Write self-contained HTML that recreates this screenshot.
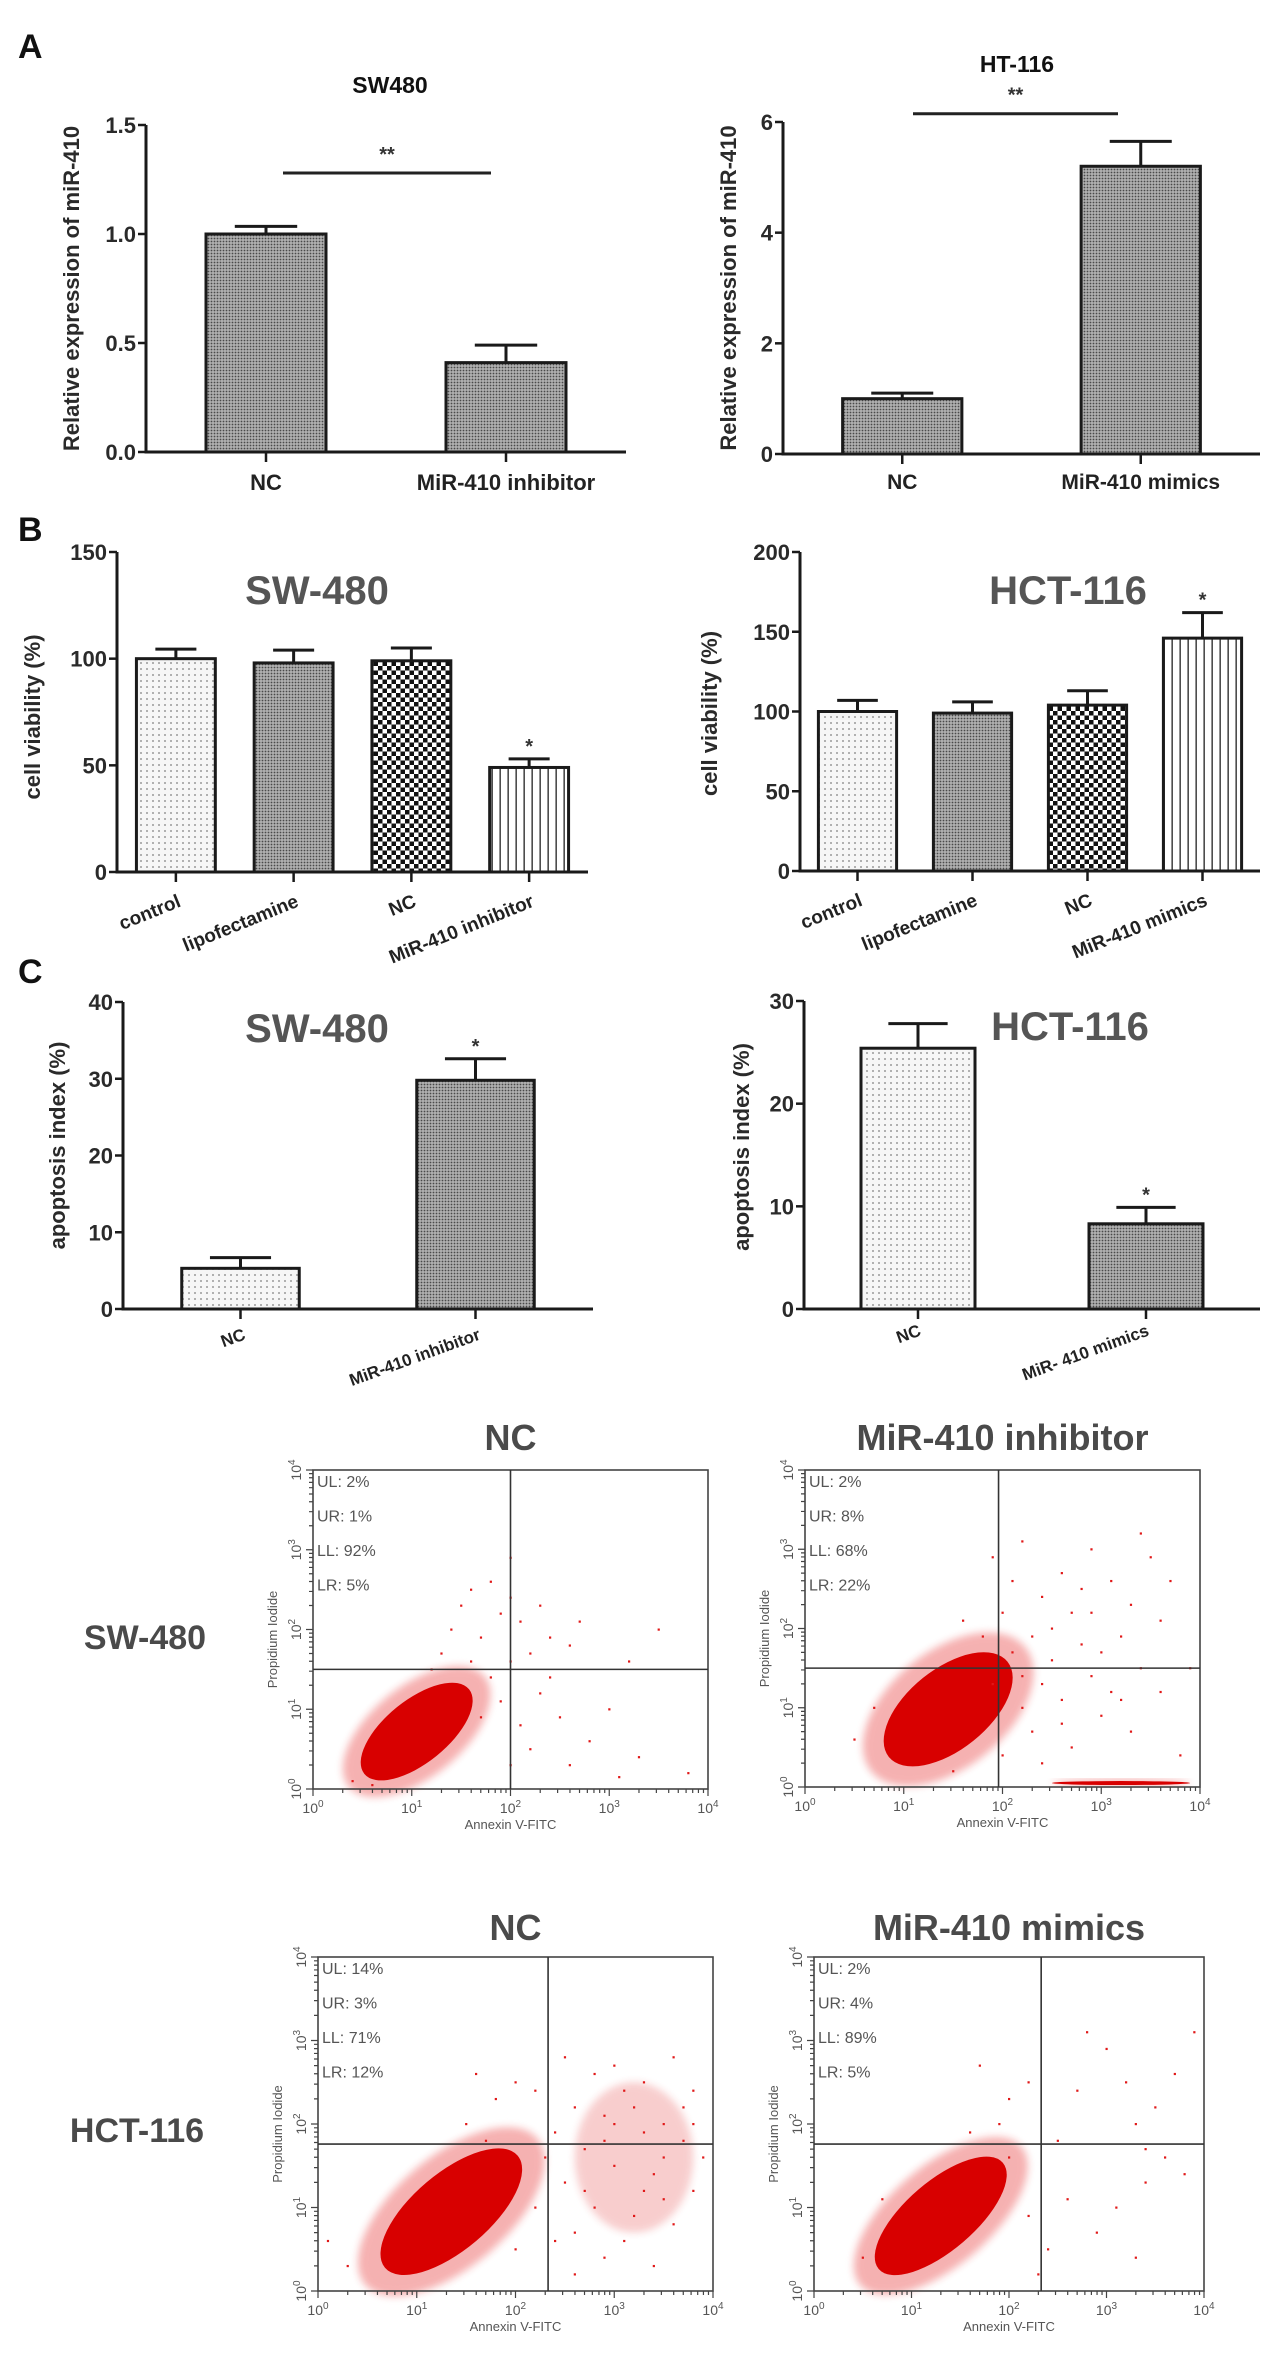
<!DOCTYPE html>
<html><head><meta charset="utf-8">
<style>
html,body{margin:0;padding:0;background:#fff;}
svg{display:block;font-family:"Liberation Sans",Arial,sans-serif;}
</style></head>
<body>
<svg id="fig" width="1263" height="2362" viewBox="0 0 1263 2362" xmlns="http://www.w3.org/2000/svg">
<defs>
<pattern id="pDense" width="3" height="3" patternUnits="userSpaceOnUse"><rect width="3" height="3" fill="#b0b0b0"/><circle cx="1.5" cy="1.5" r="0.9" fill="#4a4a4a"/></pattern>
<pattern id="pStipple" width="6" height="6" patternUnits="userSpaceOnUse"><rect width="6" height="6" fill="#f6f6f6"/><circle cx="3" cy="3" r="1" fill="#9a9a9a"/></pattern>
<pattern id="pChecker" width="9" height="9" patternUnits="userSpaceOnUse"><rect width="9" height="9" fill="#fff"/><rect width="4.5" height="4.5" fill="#111"/><rect x="4.5" y="4.5" width="4.5" height="4.5" fill="#111"/></pattern>
<pattern id="pVlines" width="8" height="8" patternUnits="userSpaceOnUse"><rect width="8" height="8" fill="#fff"/><rect x="3.5" width="1.3" height="8" fill="#222"/></pattern>
<filter id="blur2"><feGaussianBlur stdDeviation="4"/></filter>
</defs>
<g id="root"></g>
</svg>
<script>
// ---------- bar chart data ----------
const aLeftCats = ['NC','MiR-410 inhibitor'];
const aLeftVals = [1.0, 0.41];
const aLeftErr = [0.035, 0.08];
const aLeftTicks = [0, 0.5, 1.0, 1.5];
const aLeftTickLabels = ['0.0','0.5','1.0','1.5'];

const aRightCats = ['NC','MiR-410 mimics'];
const aRightVals = [1.0, 5.2];
const aRightErr = [0.1, 0.45];
const aRightTicks = [0, 2, 4, 6];
const aRightTickLabels = ['0','2','4','6'];

const bLeftCats = ['control','lipofectamine','NC','MiR-410 inhibitor'];
const bLeftVals = [100, 98, 99, 49];
const bLeftErr = [4.5, 6, 6, 4];
const bTicksL = [0, 50, 100, 150];
const bTickLabelsL = ['0','50','100','150'];

const bRightCats = ['control','lipofectamine','NC','MiR-410 mimics'];
const bRightVals = [100, 99, 104, 146];
const bRightErr = [7, 7, 9, 16];
const bTicksR = [0, 50, 100, 150, 200];
const bTickLabelsR = ['0','50','100','150','200'];

const cLeftCats = ['NC','MiR-410 inhibitor'];
const cLeftVals = [5.3, 29.8];
const cLeftErr = [1.4, 2.8];
const cTicksL = [0, 10, 20, 30, 40];
const cTickLabelsL = ['0','10','20','30','40'];

const cRightCats = ['NC','MiR- 410 mimics'];
const cRightVals = [25.4, 8.3];
const cRightErr = [2.4, 1.6];
const cTicksR = [0, 10, 20, 30];
const cTickLabelsR = ['0','10','20','30'];

// ---------- flow cytometry data (log10 units) ----------
const fcQuadText1 = ['UL: 2%','UR: 1%','LL: 92%','LR: 5%'];
const fcQuadText2 = ['UL: 2%','UR: 8%','LL: 68%','LR: 22%'];
const fcQuadText3 = ['UL: 14%','UR: 3%','LL: 71%','LR: 12%'];
const fcQuadText4 = ['UL: 2%','UR: 4%','LL: 89%','LR: 5%'];
const fcGates1 = [2.0, 1.5];
const fcGates2 = [1.96, 1.5];
const fcGates3 = [2.33, 1.76];
const fcGates4 = [2.33, 1.76];
const fcCluster1 = [[1.05,0.72,0.75,0.35]];
const fcCluster2 = [[1.45,0.98,0.85,0.45],[3.2,0.05,0.7,0.04]];
const fcCluster3 = [[1.35,0.95,0.95,0.42]];
const fcCluster4 = [[1.3,0.9,0.9,0.38]];
const fcHalo3 = [[3.2,1.6,0.6,0.9]];
const fcDots1 = [[1.5,2.3],[1.6,2.5],[1.8,2.6],[1.9,2.2],[2.0,2.9],[2.0,2.4],[2.1,2.1],[1.7,1.9],[1.4,2.0],[2.3,2.3],[2.4,1.9],[2.2,1.7],[1.6,1.6],[1.3,1.7],[2.6,1.8],[3.5,2.0],[3.2,1.6],[2.3,1.2],[2.5,0.9],[2.8,0.6],[3.0,1.0],[2.2,0.5],[2.6,0.3],[3.3,0.4],[3.8,0.2],[2.0,0.3],[0.4,0.1],[0.6,0.05],[1.9,1.1],[2.1,0.8],[2.4,1.4],[3.1,0.15],[1.2,1.5],[2.7,2.1],[1.8,1.4],[1.7,0.9],[2.0,1.6]];
const fcDots2 = [[1.9,2.9],[2.2,3.1],[2.6,2.7],[2.9,3.0],[3.1,2.6],[2.4,2.4],[2.0,2.2],[2.7,2.2],[3.3,2.3],[3.5,2.9],[3.7,2.6],[2.3,1.9],[2.8,1.8],[3.2,1.9],[3.4,1.5],[2.5,1.6],[2.1,1.7],[1.8,1.9],[1.6,2.1],[2.9,1.4],[3.6,1.2],[3.0,0.9],[2.6,1.1],[2.3,0.7],[2.7,0.5],[3.3,0.7],[3.8,0.4],[2.0,0.4],[1.5,0.2],[0.5,0.6],[0.7,1.0],[2.4,1.3],[3.1,1.2],[2.2,1.0],[1.9,1.3],[3.9,1.5],[2.8,2.5],[3.4,3.2],[2.5,2.0],[2.2,1.4],[2.6,0.8],[3.0,1.7],[2.9,2.2],[2.1,2.6],[3.2,1.1],[2.4,0.3],[3.6,2.1]];
const fcDots3 = [[1.6,2.6],[1.8,2.3],[2.0,2.5],[1.5,2.0],[1.7,1.8],[2.2,2.4],[2.5,2.8],[2.8,2.6],[3.0,2.7],[3.3,2.5],[3.6,2.8],[3.8,2.4],[2.6,2.2],[2.9,2.1],[3.2,2.2],[3.5,2.0],[3.7,1.8],[2.7,1.7],[3.0,1.5],[3.4,1.4],[3.8,1.2],[2.5,1.3],[2.8,1.0],[3.2,0.9],[3.6,0.8],[2.4,0.6],[2.9,0.4],[3.4,0.3],[2.6,0.2],[3.1,0.6],[3.9,1.6],[3.5,1.1],[2.2,1.0],[2.0,0.5],[0.1,0.6],[0.3,0.3],[3.3,1.9],[3.7,2.2],[2.4,1.9],[3.1,2.4],[2.7,1.2],[3.0,2.0],[3.5,1.6],[2.3,1.6],[3.8,2.0],[2.6,0.7],[3.3,1.2],[2.9,1.8]];
const fcDots4 = [[1.7,2.7],[2.0,2.3],[1.9,2.0],[2.2,2.5],[2.8,3.1],[3.0,2.9],[2.7,2.4],[3.2,2.5],[3.5,2.2],[3.3,2.0],[3.6,1.6],[3.4,1.3],[3.1,1.0],[2.6,1.1],[2.9,0.7],[3.3,0.4],[2.4,0.5],[2.2,0.9],[1.6,1.9],[3.8,1.4],[3.7,2.6],[0.5,0.4],[0.7,1.1],[2.5,1.8],[3.9,3.1],[2.3,0.2],[3.4,1.7],[2.0,1.6]];

// ---------- helpers ----------
const NS = 'http://www.w3.org/2000/svg';
const root = document.getElementById('root');
function mk(tag, attrs, parent, text) {
  const e = document.createElementNS(NS, tag);
  for (const k in attrs) e.setAttribute(k, attrs[k]);
  if (text !== undefined) e.textContent = text;
  (parent || root).appendChild(e);
  return e;
}
function label(x, y, txt, size, opts, parent, name) {
  opts = opts || {};
  const t = mk('text', {x: x, y: y, 'font-size': size, 'font-weight': opts.weight || 'bold', fill: opts.fill || '#222', 'text-anchor': opts.anchor || 'middle'}, parent, txt);
  if (opts.rot !== undefined) t.setAttribute('transform', 'rotate(' + opts.rot + ' ' + x + ' ' + y + ')');
  
  
  return t;
}

function barChart(g, cats, vals, errs, ticks, tickLabels, fills, geo) {
  const grp = mk('g', {}, root);
  
  
  const vmax = ticks[ticks.length - 1];
  const yS = v => geo.y0 - (v / vmax) * (geo.y0 - geo.yTop);
  const band = (geo.x1 - geo.x0) / cats.length;
  const xC = i => geo.x0 + band * (i + 0.5);
  const bw = band * geo.bwFrac;
  // bars
  vals.forEach((v, i) => {
    const r = mk('rect', {x: xC(i) - bw / 2, y: yS(v), width: bw, height: geo.y0 - yS(v), fill: fills[i], stroke: '#1a1a1a', 'stroke-width': 3}, grp);
    
    
    const eTop = yS(v + errs[i]);
    const el = mk('path', {d: 'M' + xC(i) + ' ' + yS(v) + 'V' + eTop + 'M' + (xC(i) - bw * 0.26) + ' ' + eTop + 'H' + (xC(i) + bw * 0.26), stroke: '#1a1a1a', 'stroke-width': 3, fill: 'none'}, grp);
    
    
    if (geo.stars && geo.stars[i]) {
      label(xC(i), eTop - 6, '*', 20, {fill: '#333'}, grp, 'significance-star');
    }
  });
  // axes
  const ax = mk('path', {d: 'M' + geo.x0 + ' ' + geo.yTop + 'V' + geo.y0 + 'H' + geo.x1, stroke: '#1a1a1a', 'stroke-width': 3, fill: 'none'}, grp);
  
  
  ticks.forEach((t, i) => {
    const y = yS(t);
    const tk = mk('line', {x1: geo.x0 - 8, x2: geo.x0, y1: y, y2: y, stroke: '#1a1a1a', 'stroke-width': 2.5}, grp);
    
    
    label(geo.x0 - 10, y + 8, tickLabels[i], geo.tickSize || 22, {anchor: 'end', fill: '#2a2a2a'}, grp, 'y-tick-label');
  });
  cats.forEach((c, i) => {
    const tk = mk('line', {x1: xC(i), x2: xC(i), y1: geo.y0, y2: geo.y0 + 10, stroke: '#1a1a1a', 'stroke-width': 2.5}, grp);
    
    
    if (geo.xRot) {
      label(xC(i) + geo.xOff, geo.y0 + geo.xDy, c, geo.xSize, {anchor: 'end', rot: geo.xRot, fill: '#222'}, grp, 'x-tick-label');
    } else {
      label(xC(i), geo.y0 + geo.xDy, c, geo.xSize, {fill: '#222'}, grp, 'x-tick-label');
    }
  });
  label(geo.ylx, (geo.yTop + geo.y0) / 2 + geo.ylShift, geo.ylab, 22, {rot: -90, fill: '#2a2a2a'}, grp, 'y-axis-title');
  if (geo.title) label(geo.title[0], geo.title[1], geo.title[2], geo.title[3], {fill: geo.title[4]}, grp, 'chart-title');
  if (geo.sig) {
    const sl = mk('line', {x1: geo.sig[0], x2: geo.sig[1], y1: yS(geo.sig[2]), y2: yS(geo.sig[2]), stroke: '#222', 'stroke-width': 3}, grp);
    
    
    label((geo.sig[0] + geo.sig[1]) / 2, yS(geo.sig[2]) - 12, '**', 20, {fill: '#333'}, grp, 'significance-stars');
  }
}

// panel letters
label(18, 58, 'A', 34, {anchor: 'start', fill: '#111'}, root, 'panel-label-a');
label(18, 541, 'B', 34, {anchor: 'start', fill: '#111'}, root, 'panel-label-b');
label(18, 983, 'C', 34, {anchor: 'start', fill: '#111'}, root, 'panel-label-c');

barChart({name: 'chart-a-sw480'}, aLeftCats, aLeftVals, aLeftErr, aLeftTicks, aLeftTickLabels, ['url(#pDense)','url(#pDense)'],
  {x0: 146, x1: 626, y0: 452, yTop: 125, bwFrac: 0.5, xDy: 38, xSize: 22, ylx: 79, ylShift: 0, ylab: 'Relative expression of miR-410', title: [390, 93, 'SW480', 23, '#111'], sig: [283, 491, 1.28]});
barChart({name: 'chart-a-ht116'}, aRightCats, aRightVals, aRightErr, aRightTicks, aRightTickLabels, ['url(#pDense)','url(#pDense)'],
  {x0: 783, x1: 1260, y0: 454, yTop: 122, bwFrac: 0.5, xDy: 35, xSize: 21, ylx: 736, ylShift: 0, ylab: 'Relative expression of miR-410', title: [1017, 72, 'HT-116', 23, '#111'], sig: [913, 1118, 6.15]});
barChart({name: 'chart-b-sw480'}, bLeftCats, bLeftVals, bLeftErr, bTicksL, bTickLabelsL, ['url(#pStipple)','url(#pDense)','url(#pChecker)','url(#pVlines)'],
  {x0: 117, x1: 588, y0: 872, yTop: 552, bwFrac: 0.67, xRot: -22, xOff: 6, xDy: 34, xSize: 19, ylx: 40, ylShift: 5, ylab: 'cell viability (%)', title: [317, 604, 'SW-480', 40, '#555'], stars: [0,0,0,1]});
barChart({name: 'chart-b-hct116'}, bRightCats, bRightVals, bRightErr, bTicksR, bTickLabelsR, ['url(#pStipple)','url(#pDense)','url(#pChecker)','url(#pVlines)'],
  {x0: 800, x1: 1260, y0: 871, yTop: 552, bwFrac: 0.68, xRot: -22, xOff: 6, xDy: 34, xSize: 19, ylx: 717, ylShift: 2, ylab: 'cell viability (%)', title: [1068, 604, 'HCT-116', 40, '#555'], stars: [0,0,0,1]});
barChart({name: 'chart-c-sw480'}, cLeftCats, cLeftVals, cLeftErr, cTicksL, cTickLabelsL, ['url(#pStipple)','url(#pDense)'],
  {x0: 123, x1: 593, y0: 1309, yTop: 1002, bwFrac: 0.5, xRot: -20, xOff: 6, xDy: 30, xSize: 17, ylx: 65, ylShift: -10, ylab: 'apoptosis index (%)', title: [317, 1042, 'SW-480', 40, '#555'], stars: [0,1]});
barChart({name: 'chart-c-hct116'}, cRightCats, cRightVals, cRightErr, cTicksR, cTickLabelsR, ['url(#pStipple)','url(#pDense)'],
  {x0: 804, x1: 1260, y0: 1309, yTop: 1001, bwFrac: 0.5, xRot: -20, xOff: 4, xDy: 26, xSize: 17, ylx: 749, ylShift: -8, ylab: 'apoptosis index (%)', title: [1070, 1040, 'HCT-116', 40, '#555'], stars: [0,1]});

// ---------- flow cytometry plots ----------
function flowPlot(name, box, gates, quadText, clusters, halos, dots, title) {
  const grp = mk('g', {}, root);
  
  
  const [L, T, R, B] = box;
  const xS = v => L + (v / 4) * (R - L);
  const yS = v => B - (v / 4) * (B - T);
  const pxX = (R - L) / 4, pxY = (B - T) / 4;
  // halos (background density)
  (halos || []).forEach(h => {
    const e = mk('ellipse', {cx: xS(h[0]), cy: yS(h[1]), rx: h[2] * pxX, ry: h[3] * pxY, fill: '#e02020', opacity: 0.22, filter: 'url(#blur2)'}, grp);
    
    
  });
  // clusters
  clusters.forEach(c => {
    const len = c[2] * Math.hypot(pxX, pxY) / Math.SQRT2;
    const wid = c[3] * Math.hypot(pxX, pxY) / Math.SQRT2;
    const ang = -Math.atan2(pxY, pxX) * 180 / Math.PI;
    const cx = xS(c[0]), cy = yS(c[1]);
    const flat = c[3] < 0.1;
    const h = mk('ellipse', {cx: cx, cy: cy, rx: flat ? c[2] * pxX : len * 1.3, ry: flat ? 4 : wid * 1.45, fill: '#e52020', opacity: 0.35, filter: 'url(#blur2)', transform: flat ? '' : 'rotate(' + ang + ' ' + cx + ' ' + cy + ')'}, grp);
    
    
    const e = mk('ellipse', {cx: cx, cy: cy, rx: flat ? c[2] * pxX : len, ry: flat ? 2 : wid, fill: '#d80000', transform: flat ? '' : 'rotate(' + ang + ' ' + cx + ' ' + cy + ')'}, grp);
    
    
  });
  dots.forEach(d => {
    const r = mk('rect', {x: xS(d[0]) - 1, y: yS(d[1]) - 1, width: 2.2, height: 2.2, fill: '#e01818'}, grp);
    
    
  });
  // frame
  const f = mk('rect', {x: L, y: T, width: R - L, height: B - T, fill: 'none', stroke: '#444', 'stroke-width': 1.6}, grp);
  
  
  const gv = mk('line', {x1: xS(gates[0]), x2: xS(gates[0]), y1: T, y2: B, stroke: '#333', 'stroke-width': 1.6}, grp);
  
  
  const gh = mk('line', {x1: L, x2: R, y1: yS(gates[1]), y2: yS(gates[1]), stroke: '#333', 'stroke-width': 1.6}, grp);
  
  
  // log ticks
  let d = '';
  for (let k = 0; k <= 4; k++) {
    d += 'M' + (L - 7) + ' ' + yS(k) + 'H' + L + 'M' + xS(k) + ' ' + B + 'V' + (B + 7);
    if (k < 4) for (let m = 2; m <= 9; m++) {
      const lv = k + Math.log10(m);
      d += 'M' + (L - 4) + ' ' + yS(lv) + 'H' + L + 'M' + xS(lv) + ' ' + B + 'V' + (B + 4);
    }
  }
  const tk = mk('path', {d: d, stroke: '#444', 'stroke-width': 1.2, fill: 'none'}, grp);
  
  
  for (let k = 0; k <= 4; k++) {
    const tx = mk('text', {x: xS(k), y: B + 24, 'font-size': 14, fill: '#555', 'text-anchor': 'middle'}, grp);
    
    
    mk('tspan', {}, tx, '10');
    mk('tspan', {dy: -6, 'font-size': 10}, tx, String(k));
    const ty = mk('text', {x: L - 12, y: yS(k), 'font-size': 14, fill: '#555', 'text-anchor': 'middle', transform: 'rotate(-90 ' + (L - 12) + ' ' + yS(k) + ')'}, grp);
    
    
    mk('tspan', {}, ty, '10');
    mk('tspan', {dy: -6, 'font-size': 10}, ty, String(k));
  }
  label((L + R) / 2, B + 40, 'Annexin V-FITC', 13, {weight: 'normal', fill: '#555'}, grp, 'x-axis-title');
  label(L - 36, (T + B) / 2 + 10, 'Propidium Iodide', 13, {weight: 'normal', fill: '#555', rot: -90}, grp, 'y-axis-title');
  quadText.forEach((q, i) => {
    label(L + 4, T + 17 + i * 34.5, q, 16, {weight: 'normal', fill: '#555', anchor: 'start'}, grp, 'quadrant-stat');
  });
  label((L + R) / 2, title[1], title[0], 36, {fill: '#4a4a4a'}, grp, 'plot-title');
}

flowPlot('flow-sw480-nc', [313, 1470, 708, 1789], fcGates1, fcQuadText1, fcCluster1, [], fcDots1, ['NC', 1450]);
flowPlot('flow-sw480-inhibitor', [805, 1470, 1200, 1787], fcGates2, fcQuadText2, fcCluster2, [], fcDots2, ['MiR-410 inhibitor', 1450]);
flowPlot('flow-hct116-nc', [318, 1957, 713, 2291], fcGates3, fcQuadText3, fcCluster3, fcHalo3, fcDots3, ['NC', 1940]);
flowPlot('flow-hct116-mimics', [814, 1957, 1204, 2291], fcGates4, fcQuadText4, fcCluster4, [], fcDots4, ['MiR-410 mimics', 1940]);

label(145, 1649, 'SW-480', 34, {fill: '#4a4a4a'}, root, 'row-label-sw480');
label(137, 2142, 'HCT-116', 34, {fill: '#4a4a4a'}, root, 'row-label-hct116');
</script>
</body></html>
